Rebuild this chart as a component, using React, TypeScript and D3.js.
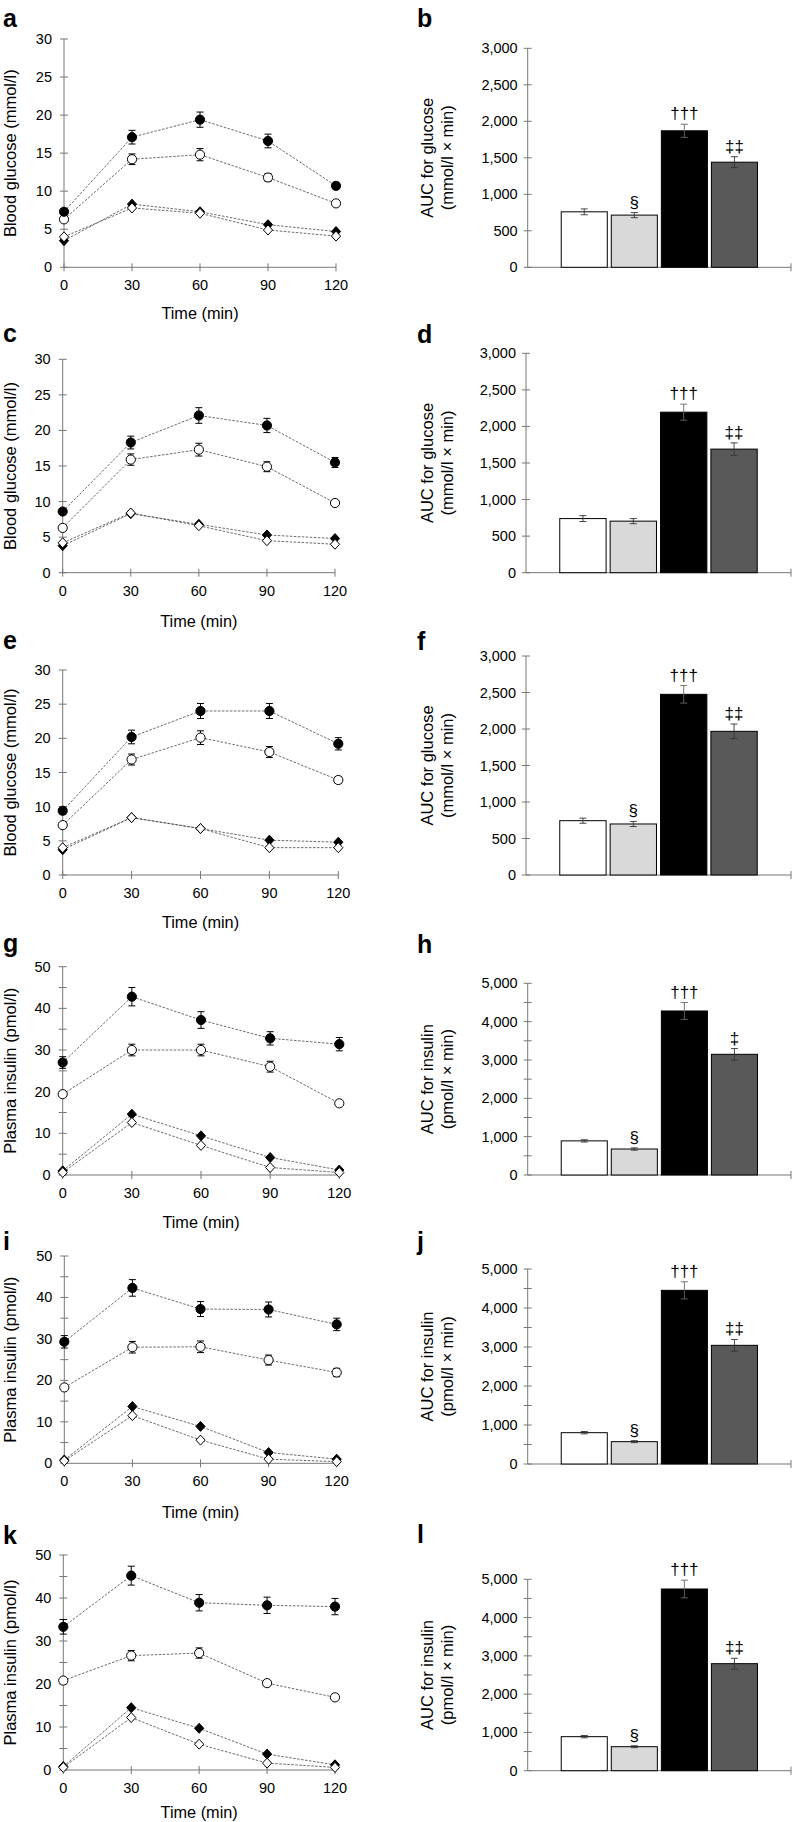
import * as React from "react";
import * as d3 from "d3";

// ---- data ----
const times = [0, 30, 60, 90, 120];

// a: blood glucose
const aFilledCircle = [7.3, 17.1, 19.4, 16.6, 10.7];
const aFilledCircleErr = [0.4, 0.9, 1.0, 0.9, 0.3];
const aOpenCircle = [6.3, 14.2, 14.8, 11.8, 8.4];
const aOpenCircleErr = [0.3, 0.7, 0.8, 0.5, 0.3];
const aFilledDiamond = [3.5, 8.3, 7.3, 5.6, 4.7];
const aOpenDiamond = [4.0, 7.8, 7.1, 4.9, 4.1];

// c: blood glucose
const cFilledCircle = [8.6, 18.3, 22.1, 20.7, 15.5];
const cFilledCircleErr = [0.4, 0.9, 1.1, 1.0, 0.7];
const cOpenCircle = [6.3, 15.9, 17.3, 14.9, 9.8];
const cOpenCircleErr = [0.3, 0.8, 0.9, 0.7, 0.3];
const cFilledDiamond = [3.8, 8.3, 6.8, 5.3, 4.8];
const cOpenDiamond = [4.2, 8.4, 6.6, 4.5, 4.0];

// e: blood glucose
const eFilledCircle = [9.4, 20.2, 24.0, 24.0, 19.2];
const eFilledCircleErr = [0.5, 1.0, 1.1, 1.1, 0.9];
const eOpenCircle = [7.3, 16.9, 20.1, 18.0, 13.9];
const eOpenCircleErr = [0.3, 0.8, 1.0, 0.8, 0.5];
const eFilledDiamond = [3.7, 8.4, 6.8, 5.1, 4.8];
const eOpenDiamond = [4.0, 8.4, 6.8, 4.0, 4.0];

// g: plasma insulin
const gFilledCircle = [27.0, 42.8, 37.2, 32.8, 31.4];
const gFilledCircleErr = [1.4, 2.2, 2.0, 1.6, 1.6];
const gOpenCircle = [19.4, 30.0, 30.0, 26.0, 17.2];
const gOpenCircleErr = [0.4, 1.4, 1.4, 1.3, 0.4];
const gFilledDiamond = [1.0, 14.6, 9.4, 4.2, 1.2];
const gOpenDiamond = [0.6, 12.6, 7.1, 1.8, 0.6];

// i: plasma insulin
const iFilledCircle = [29.3, 42.3, 37.2, 37.1, 33.5];
const iFilledCircleErr = [1.5, 2.0, 1.8, 1.8, 1.5];
const iOpenCircle = [18.3, 28.0, 28.1, 24.9, 21.9];
const iOpenCircleErr = [0.3, 1.4, 1.4, 1.2, 1.0];
const iFilledDiamond = [0.8, 13.7, 8.9, 2.6, 1.0];
const iOpenDiamond = [0.6, 11.5, 5.6, 1.0, 0.4];

// k: plasma insulin
const kFilledCircle = [33.3, 45.2, 38.9, 38.3, 38.0];
const kFilledCircleErr = [1.7, 2.2, 1.9, 1.9, 1.9];
const kOpenCircle = [20.8, 26.6, 27.2, 20.2, 16.9];
const kOpenCircleErr = [0.3, 1.2, 1.2, 0.6, 0.3];
const kFilledDiamond = [0.8, 14.5, 9.7, 3.7, 1.2];
const kOpenDiamond = [0.6, 12.2, 6.0, 1.6, 0.6];

// AUC bars
const barFills = ["#ffffff", "#d9d9d9", "#000000", "#595959"];
const bAuc = [760, 715, 1870, 1440];
const bErr = [40, 35, 90, 75];
const bMarks = ["", "§", "†††", "‡‡"];
const dAuc = [740, 705, 2195, 1690];
const dErr = [40, 35, 110, 85];
const dMarks = ["", "", "†††", "‡‡"];
const fAuc = [744, 699, 2475, 1968];
const fErr = [35, 35, 120, 100];
const fMarks = ["", "§", "†††", "‡‡"];
const hAuc = [890, 678, 4278, 3148];
const hErr = [30, 30, 220, 150];
const hMarks = ["", "§", "†††", "‡"];
const jAuc = [803, 573, 4453, 3043];
const jErr = [30, 25, 220, 150];
const jMarks = ["", "§", "†††", "‡‡"];
const lAuc = [889, 627, 4747, 2796];
const lErr = [30, 25, 230, 140];
const lMarks = ["", "§", "†††", "‡‡"];

const glucoseTicks = [0, 5, 10, 15, 20, 25, 30];
const insulinTicks = [0, 10, 20, 30, 40, 50];
const insulinMinor = [5, 15, 25, 35, 45];
const aucGlucoseTicks = [0, 500, 1000, 1500, 2000, 2500, 3000];
const aucInsulinTicks = [0, 1000, 2000, 3000, 4000, 5000];
const aucInsulinMinor = [500, 1500, 2500, 3500, 4500];

const FONT = "'Liberation Sans', Arial, Helvetica, sans-serif";
const AXIS = "#777";

type Series = { values: number[]; errs?: number[]; shape: "circle" | "diamond"; filled: boolean };

function mkSeries(fc: number[], fcE: number[], oc: number[], ocE: number[], fd: number[], od: number[]): Series[] {
  return [
    { values: fd, shape: "diamond", filled: true },
    { values: od, shape: "diamond", filled: false },
    { values: oc, errs: ocE, shape: "circle", filled: false },
    { values: fc, errs: fcE, shape: "circle", filled: true },
  ];
}

const linePanels = [
  { letter: "a", letterY: 27, x0: 64, x1: 336, y0: 267.3, yTop: 39, yMax: 30, ticks: glucoseTicks, minor: [] as number[], ylabel: "Blood glucose (mmol/l)", timeY: 313, series: mkSeries(aFilledCircle, aFilledCircleErr, aOpenCircle, aOpenCircleErr, aFilledDiamond, aOpenDiamond) },
  { letter: "c", letterY: 342, x0: 62.7, x1: 335, y0: 572.7, yTop: 359.3, yMax: 30, ticks: glucoseTicks, minor: [], ylabel: "Blood glucose (mmol/l)", timeY: 620.7, series: mkSeries(cFilledCircle, cFilledCircleErr, cOpenCircle, cOpenCircleErr, cFilledDiamond, cOpenDiamond) },
  { letter: "e", letterY: 649, x0: 62.7, x1: 338.3, y0: 875, yTop: 670, yMax: 30, ticks: glucoseTicks, minor: [], ylabel: "Blood glucose (mmol/l)", timeY: 922, series: mkSeries(eFilledCircle, eFilledCircleErr, eOpenCircle, eOpenCircleErr, eFilledDiamond, eOpenDiamond) },
  { letter: "g", letterY: 952, x0: 62.7, x1: 339.3, y0: 1175, yTop: 966.7, yMax: 50, ticks: insulinTicks, minor: insulinMinor, ylabel: "Plasma insulin (pmol/l)", timeY: 1221.7, series: mkSeries(gFilledCircle, gFilledCircleErr, gOpenCircle, gOpenCircleErr, gFilledDiamond, gOpenDiamond) },
  { letter: "i", letterY: 1250, x0: 64.3, x1: 336.7, y0: 1463.3, yTop: 1256, yMax: 50, ticks: insulinTicks, minor: insulinMinor, ylabel: "Plasma insulin (pmol/l)", timeY: 1511.7, series: mkSeries(iFilledCircle, iFilledCircleErr, iOpenCircle, iOpenCircleErr, iFilledDiamond, iOpenDiamond) },
  { letter: "k", letterY: 1544, x0: 63.3, x1: 335, y0: 1770, yTop: 1555, yMax: 50, ticks: insulinTicks, minor: insulinMinor, ylabel: "Plasma insulin (pmol/l)", timeY: 1811.7, series: mkSeries(kFilledCircle, kFilledCircleErr, kOpenCircle, kOpenCircleErr, kFilledDiamond, kOpenDiamond) },
];

const barPanels = [
  { letter: "b", letterY: 27, x0: 527.7, y0: 267.3, yTop: 48.3, yMax: 3000, ticks: aucGlucoseTicks, minor: [] as number[], label: ["AUC for glucose", "(mmol/l × min)"], values: bAuc, errs: bErr, marks: bMarks },
  { letter: "d", letterY: 343, x0: 526, y0: 572.7, yTop: 353.3, yMax: 3000, ticks: aucGlucoseTicks, minor: [], label: ["AUC for glucose", "(mmol/l × min)"], values: dAuc, errs: dErr, marks: dMarks },
  { letter: "f", letterY: 650, x0: 526, y0: 875, yTop: 656, yMax: 3000, ticks: aucGlucoseTicks, minor: [], label: ["AUC for glucose", "(mmol/l × min)"], values: fAuc, errs: fErr, marks: fMarks },
  { letter: "h", letterY: 953, x0: 527.7, y0: 1175, yTop: 983.3, yMax: 5000, ticks: aucInsulinTicks, minor: aucInsulinMinor, label: ["AUC for insulin", "(pmol/l × min)"], values: hAuc, errs: hErr, marks: hMarks },
  { letter: "j", letterY: 1250, x0: 527.7, y0: 1464, yTop: 1269, yMax: 5000, ticks: aucInsulinTicks, minor: aucInsulinMinor, label: ["AUC for insulin", "(pmol/l × min)"], values: jAuc, errs: jErr, marks: jMarks },
  { letter: "l", letterY: 1543, x0: 527.7, y0: 1770.7, yTop: 1579.3, yMax: 5000, ticks: aucInsulinTicks, minor: aucInsulinMinor, label: ["AUC for insulin", "(pmol/l × min)"], values: lAuc, errs: lErr, marks: lMarks },
];

function LinePanel({ p }: { p: (typeof linePanels)[number] }) {
  const x = d3.scaleLinear().domain([0, 120]).range([p.x0, p.x1]);
  const y = d3.scaleLinear().domain([0, p.yMax]).range([p.y0, p.yTop]);
  const line = d3
    .line<number>()
    .x((_, i) => x(times[i]))
    .y((d) => y(d));
  const diamond = "M0,-5L4.6,0L0,5L-4.6,0Z";
  const midY = (p.y0 + p.yTop) / 2;
  return (
    <g>
      <text x={3} y={p.letterY} fontSize={25} fontWeight="bold" fontFamily={FONT}>
        {p.letter}
      </text>
      {/* axes */}
      <line x1={p.x0} x2={p.x0} y1={p.y0} y2={p.yTop} stroke={AXIS} />
      <line x1={p.x0} x2={p.x1} y1={p.y0} y2={p.y0} stroke={AXIS} />
      {p.ticks.map((t) => (
        <g key={"t" + t}>
          <line x1={p.x0 - 4} x2={p.x0 + 4} y1={y(t)} y2={y(t)} stroke={AXIS} />
          <text x={p.x0 - 12} y={y(t)} textAnchor="end" dominantBaseline="central" fontSize={14.5} fontFamily={FONT}>
            {t}
          </text>
        </g>
      ))}
      {p.minor.map((t) => (
        <line key={"m" + t} x1={p.x0 - 4} x2={p.x0 + 4} y1={y(t)} y2={y(t)} stroke={AXIS} />
      ))}
      {times.map((t) => (
        <g key={"x" + t}>
          <line x1={x(t)} x2={x(t)} y1={p.y0 - 4} y2={p.y0 + 4} stroke={AXIS} />
          <text x={x(t)} y={p.y0 + 18} textAnchor="middle" dominantBaseline="central" fontSize={14.5} fontFamily={FONT}>
            {t}
          </text>
        </g>
      ))}
      <text x={(p.x0 + p.x1) / 2} y={p.timeY} textAnchor="middle" dominantBaseline="central" fontSize={16.3} fontFamily={FONT}>
        Time (min)
      </text>
      <text
        transform={`translate(10, ${midY}) rotate(-90)`}
        textAnchor="middle"
        dominantBaseline="central"
        fontSize={16.5}
        fontFamily={FONT}
      >
        {p.ylabel}
      </text>
      {/* lines */}
      {p.series.map((s, i) => (
        <path key={"l" + i} d={line(s.values) || ""} fill="none" stroke="#444" strokeWidth={0.8} strokeDasharray="2.5,1.5" />
      ))}
      {/* error bars */}
      {p.series.map((s, i) =>
        (s.errs || []).map((e, j) => {
          const cx = x(times[j]);
          const ya = y(s.values[j] + e);
          const yb = y(s.values[j] - e);
          return (
            <g key={"e" + i + "-" + j} stroke="#000" strokeWidth={1}>
              <line x1={cx} x2={cx} y1={ya} y2={yb} />
              <line x1={cx - 3.5} x2={cx + 3.5} y1={ya} y2={ya} />
              <line x1={cx - 3.5} x2={cx + 3.5} y1={yb} y2={yb} />
            </g>
          );
        })
      )}
      {/* markers */}
      {p.series.map((s, i) =>
        s.values.map((v, j) =>
          s.shape === "circle" ? (
            <circle key={"c" + i + "-" + j} cx={x(times[j])} cy={y(v)} r={4.6} fill={s.filled ? "#000" : "#fff"} stroke="#000" strokeWidth={1} />
          ) : (
            <path key={"d" + i + "-" + j} d={diamond} transform={`translate(${x(times[j])},${y(v)})`} fill={s.filled ? "#000" : "#fff"} stroke="#000" strokeWidth={1} />
          )
        )
      )}
    </g>
  );
}

function BarPanel({ p }: { p: (typeof barPanels)[number] }) {
  const xEnd = 791;
  const x = d3.scaleBand<number>().domain([0, 1, 2, 3]).range([p.x0, xEnd]).paddingInner(0.08).paddingOuter(0.67);
  const y = d3.scaleLinear().domain([0, p.yMax]).range([p.y0, p.yTop]);
  const fmt = d3.format(",");
  const midY = (p.y0 + p.yTop) / 2;
  return (
    <g>
      <text x={417} y={p.letterY} fontSize={25} fontWeight="bold" fontFamily={FONT}>
        {p.letter}
      </text>
      <line x1={p.x0} x2={p.x0} y1={p.y0} y2={p.yTop} stroke={AXIS} />
      <line x1={p.x0} x2={xEnd} y1={p.y0} y2={p.y0} stroke={AXIS} />
      <line x1={xEnd} x2={xEnd} y1={p.y0 - 4} y2={p.y0 + 4} stroke={AXIS} />
      {p.ticks.map((t) => (
        <g key={"t" + t}>
          <line x1={p.x0 - 4} x2={p.x0 + 4} y1={y(t)} y2={y(t)} stroke={AXIS} />
          <text x={p.x0 - 10} y={y(t)} textAnchor="end" dominantBaseline="central" fontSize={14.5} fontFamily={FONT}>
            {fmt(t)}
          </text>
        </g>
      ))}
      {p.minor.map((t) => (
        <line key={"m" + t} x1={p.x0 - 4} x2={p.x0 + 4} y1={y(t)} y2={y(t)} stroke={AXIS} />
      ))}
      <text transform={`translate(427, ${midY}) rotate(-90)`} textAnchor="middle" dominantBaseline="central" fontSize={16.5} fontFamily={FONT}>
        {p.label[0]}
      </text>
      <text transform={`translate(447, ${midY}) rotate(-90)`} textAnchor="middle" dominantBaseline="central" fontSize={16.5} fontFamily={FONT}>
        {p.label[1]}
      </text>
      {p.values.map((v, i) => {
        const bx = x(i) as number;
        const bw = x.bandwidth();
        const cx = bx + bw / 2;
        const ya = y(v + p.errs[i]);
        const yb = y(v - p.errs[i]);
        return (
          <g key={"b" + i}>
            <rect x={bx} y={y(v)} width={bw} height={p.y0 - y(v)} fill={barFills[i]} stroke="#000" strokeWidth={1} />
            <g stroke={i === 2 ? "#666" : "#333"} strokeWidth={0.9}>
              <line x1={cx} x2={cx} y1={ya} y2={yb} />
              <line x1={cx - 3.5} x2={cx + 3.5} y1={ya} y2={ya} />
              <line x1={cx - 3.5} x2={cx + 3.5} y1={yb} y2={yb} />
            </g>
            {p.marks[i] && (
              <text x={cx} y={ya - 5} textAnchor="middle" fontSize={17} fontFamily={FONT}>
                {p.marks[i]}
              </text>
            )}
          </g>
        );
      })}
    </g>
  );
}

export default function App() {
  return (
    <svg width={794} height={1822} style={{ position: "absolute", left: 0, top: 0, background: "#fff" }}>
      <rect width={794} height={1822} fill="#fff" />
      {linePanels.map((p) => (
        <LinePanel key={p.letter} p={p} />
      ))}
      {barPanels.map((p) => (
        <BarPanel key={p.letter} p={p} />
      ))}
    </svg>
  );
}
